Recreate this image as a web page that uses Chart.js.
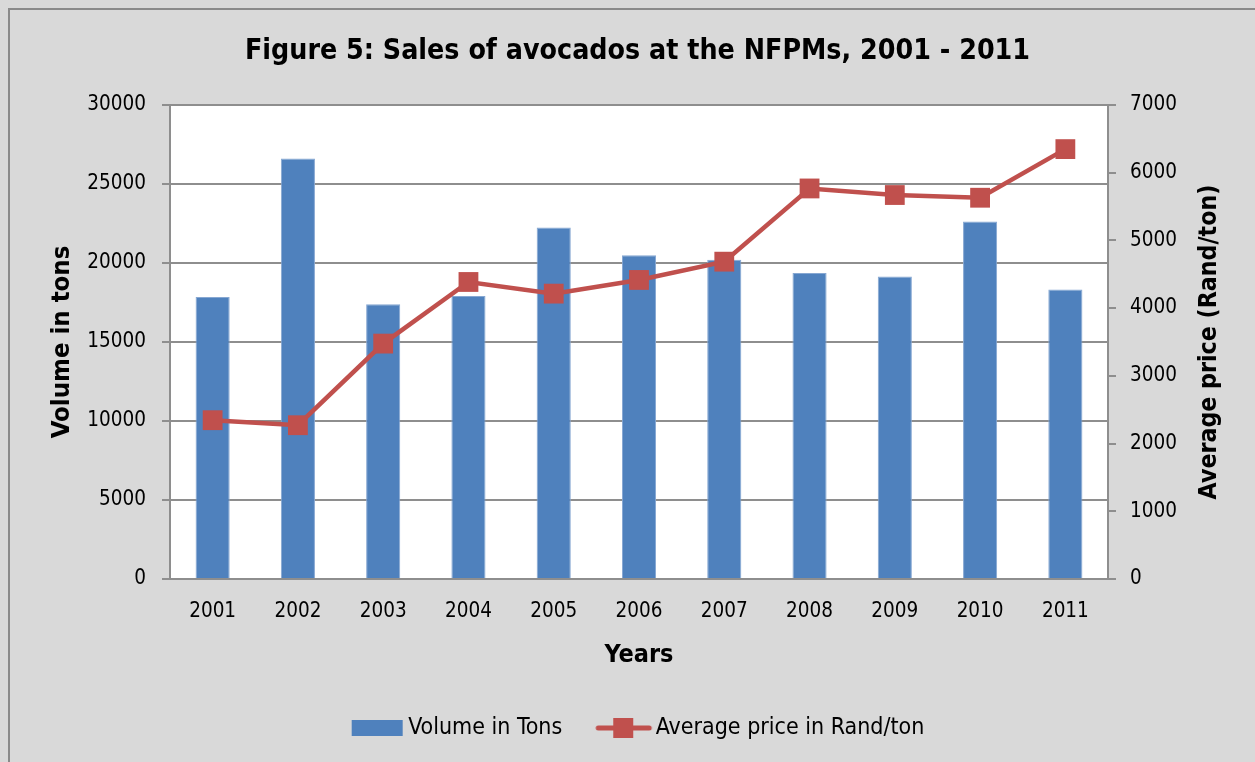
<!DOCTYPE html>
<html>
<head>
<meta charset="utf-8">
<script src="https://cdn.jsdelivr.net/npm/chart.js@4.4.0/dist/chart.umd.min.js"></script>
<style>
  html, body { margin: 0; padding: 0; background: #d9d9d9; }
  #wrap { width: 1255px; height: 762px; }
</style>
</head>
<body>
<div id="wrap"><canvas id="chart" width="1255" height="762"></canvas></div>
<script>
const years = ['2001', '2002', '2003', '2004', '2005', '2006', '2007', '2008', '2009', '2010', '2011'];
const volumeTons = [17850, 26610, 17390, 17910, 22240, 20490, 20210, 19370, 19140, 22620, 18320];
const avgPrice = [2345, 2271, 3476, 4386, 4214, 4416, 4686, 5767, 5670, 5630, 6348];
const volumeTicks = [0, 5000, 10000, 15000, 20000, 25000, 30000];
const priceTicks = [0, 1000, 2000, 3000, 4000, 5000, 6000, 7000];

const FONT = "'Liberation Sans Narrow', 'Arial Narrow', 'DejaVu Sans Condensed', sans-serif";
const BLUE = '#4f81bd';
const RED = '#c0504d';
const GRID = '#8e8e8e';

// small images for the legend markers (wider than the box, drawn centred on it)
function legendBar() {
    const c = document.createElement('canvas');
    c.width = 70; c.height = 16;
    const ctx = c.getContext('2d');
    ctx.fillStyle = BLUE;
    ctx.fillRect(13, 0, 51, 16);
    return c;
}
function legendLine() {
    const c = document.createElement('canvas');
    c.width = 70; c.height = 22;
    const ctx = c.getContext('2d');
    ctx.strokeStyle = RED;
    ctx.lineWidth = 5;
    ctx.lineCap = 'round';
    ctx.beginPath();
    ctx.moveTo(12, 11); ctx.lineTo(63, 11);
    ctx.stroke();
    ctx.fillStyle = RED;
    ctx.fillRect(27, 1, 20, 20);
    return c;
}

const _background = {
    id: 'excelBackground',
    beforeDraw: function (chart) {
        const ctx = chart.ctx;
        const a = chart.chartArea;
        ctx.save();
        ctx.fillStyle = '#d9d9d9';
        ctx.fillRect(0, 0, chart.width, chart.height);
        ctx.strokeStyle = '#8a8a8a';
        ctx.lineWidth = 2;
        ctx.strokeRect(9, 9, chart.width + 20, chart.height + 20);
        ctx.fillStyle = '#ffffff';
        ctx.fillRect(a.left, a.top, a.right - a.left, a.bottom - a.top);
        ctx.restore();
    },
    afterDraw: function (chart) {
        // right axis title reads bottom-to-top like the left one
        const ctx = chart.ctx;
        const a = chart.chartArea;
        ctx.save();
        ctx.translate(1210, (a.top + a.bottom) / 2);
        ctx.rotate(-Math.PI / 2);
        ctx.font = 'bold 24.7px ' + FONT;
        ctx.fillStyle = '#000';
        ctx.textAlign = 'center';
        ctx.textBaseline = 'middle';
        ctx.fillText('Average price (Rand/ton)', 0, 0);
        ctx.restore();
    }
};

const barImg = legendBar();
const lineImg = legendLine();
const plain = (v) => String(v);

new Chart(document.getElementById('chart'), {
    data: {
        labels: years,
        datasets: [
            {
                type: 'line',
                label: 'Average price in Rand/ton',
                data: avgPrice,
                yAxisID: 'y1',
                borderColor: RED,
                backgroundColor: RED,
                borderWidth: 4.5,
                pointStyle: 'rect',
                pointRadius: 14,
                pointBorderWidth: 0,
                pointBackgroundColor: RED,
                tension: 0
            },
            {
                type: 'bar',
                label: 'Volume in Tons',
                data: volumeTons,
                yAxisID: 'y',
                backgroundColor: BLUE,
                borderColor: '#86a7d2',
                borderWidth: 1,
                categoryPercentage: 1,
                barPercentage: 0.4
            }
        ]
    },
    options: {
        responsive: false,
        animation: false,
        layout: { padding: { left: 20, right: 0, top: 0, bottom: 12.5 } },
        plugins: {
            title: {
                display: true,
                text: 'Figure 5: Sales of avocados at the NFPMs, 2001 - 2011',
                color: '#000',
                font: { family: FONT, size: 28.3, weight: 'bold' },
                padding: { top: 35, bottom: 36 }
            },
            legend: {
                position: 'bottom',
                labels: {
                    color: '#000',
                    font: { family: FONT, size: 23 },
                    usePointStyle: true,
                    pointStyleWidth: 46,
                    padding: 36,
                    generateLabels: function (chart) {
                        return [
                            { text: 'Volume in Tons', pointStyle: barImg, fillStyle: BLUE, strokeStyle: BLUE, lineWidth: 0, datasetIndex: 1, hidden: false },
                            { text: 'Average price in Rand/ton', pointStyle: lineImg, fillStyle: RED, strokeStyle: RED, lineWidth: 0, datasetIndex: 0, hidden: false }
                        ];
                    }
                }
            },
            tooltip: { enabled: false }
        },
        scales: {
            x: {
                offset: true,
                grid: { display: false, drawTicks: false },
                border: { display: true, color: GRID, width: 2 },
                ticks: { color: '#000', font: { family: FONT, size: 20.5 }, padding: 20.7, maxRotation: 0 },
                title: {
                    display: true, text: 'Years', color: '#000',
                    font: { family: FONT, size: 25, weight: 'bold' },
                    padding: { top: 10.5, bottom: 10.5 }
                },
                afterFit: (scale) => { scale.height = 101.5; }
            },
            y: {
                position: 'left',
                min: 0,
                max: 30000,
                afterBuildTicks: (scale) => { scale.ticks = volumeTicks.map(v => ({ value: v })); },
                grid: { color: GRID, lineWidth: 2, tickLength: 8, drawTicks: true },
                border: { display: true, color: GRID, width: 2 },
                ticks: { color: '#000', font: { family: FONT, size: 20.5 }, padding: 16, callback: plain },
                title: {
                    display: true, text: 'Volume in tons', color: '#000',
                    font: { family: FONT, size: 25.5, weight: 'bold' },
                    padding: { top: 26.7, bottom: 0 }
                },
                afterFit: (scale) => { scale.width = 150; }
            },
            y1: {
                position: 'right',
                min: 0,
                max: 7000,
                afterBuildTicks: (scale) => { scale.ticks = priceTicks.map(v => ({ value: v })); },
                grid: { drawOnChartArea: false, color: GRID, lineWidth: 2, tickLength: 8 },
                border: { display: true, color: GRID, width: 2 },
                ticks: { color: '#000', font: { family: FONT, size: 20.5 }, padding: 14, callback: plain },
                afterFit: (scale) => { scale.width = 147; }
            }
        }
    },
    plugins: [_background]
});
</script>
</body>
</html>
